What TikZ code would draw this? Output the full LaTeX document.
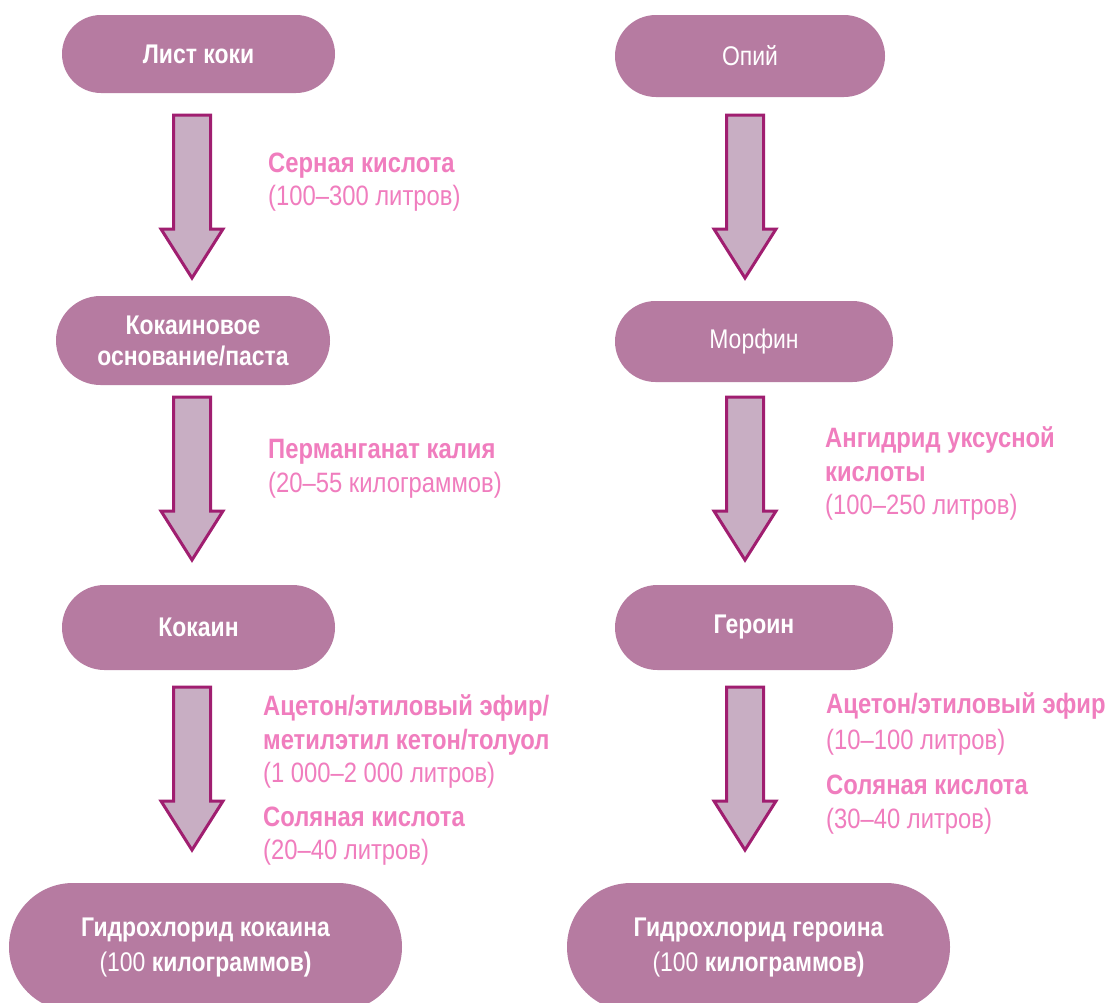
\documentclass[tikz,border=0pt]{standalone}
\usepackage{fontspec}
\setmainfont{Liberation Sans}[FakeStretch=0.85]
\usetikzlibrary{calc}
\definecolor{pillfill}{HTML}{B67BA1}
\definecolor{arrfill}{HTML}{C8AEC3}
\definecolor{arrline}{HTML}{A01E70}
\definecolor{lblpink}{HTML}{F07DBE}
\tikzset{
  pill/.style={fill=pillfill, text=white, align=center, inner sep=0pt,
    font=\fontsize{27}{31}\selectfont\bfseries},
  lbl/.style={text=lblpink, align=left, anchor=north west, inner sep=0pt,
    font=\fontsize{28}{33.5}\selectfont},
  blockarrow/.style={draw=arrline, fill=arrfill, line width=3pt, line join=miter},
}
\newcommand\blockarr[2]{%
  \draw[blockarrow] ($(#1)+(-18.5,0)$) -- ($(#1)+(18.5,0)$) -- ($(#2)+(18.5,-49)$)
    -- ($(#2)+(31,-49)$) -- (#2) -- ($(#2)+(-31,-49)$) -- ($(#2)+(-18.5,-49)$) -- cycle;}
\begin{document}
\begin{tikzpicture}[x=1pt,y=-1pt]
\clip (0,0) rectangle (1113,1002);
\fill[white] (0,0) rectangle (1113,1002);
% left column
\node[pill, minimum width=273pt, minimum height=78pt, rounded corners=39pt] (n1) at (198.5,54) {Лист коки};
\node[pill, minimum width=274pt, minimum height=89pt, rounded corners=44.5pt] (n2) at (193,340.5) {Кокаиновое\\основание/паста};
\node[pill, minimum width=273pt, minimum height=85pt, rounded corners=42.5pt] (n3) at (198.5,627.5) {Кокаин};
\node[pill, minimum width=393pt, minimum height=128pt, rounded corners=64pt] (n4) at (205.5,947) {Гидрохлорид кокаина\\[4pt]{\mdseries (100} килограммов)};
% right column
\node[pill, minimum width=270pt, minimum height=82pt, rounded corners=41pt] (n5) at (750,56) {\mdseries Опий};
\node[pill, minimum width=278pt, minimum height=81pt, rounded corners=40.5pt] (n6) at (754,341.5) {\mdseries Морфин};
\node[pill, minimum width=278pt, minimum height=85pt, rounded corners=42.5pt] (n7) at (754,627.5) {Героин};
\node[pill, minimum width=383pt, minimum height=128pt, rounded corners=64pt] (n8) at (758.5,947) {Гидрохлорид героина\\[4pt]{\mdseries (100} килограммов)};
% arrow ends
\coordinate (a1s) at (192,115); \coordinate (a1e) at (192,278);
\coordinate (a2s) at (192,397); \coordinate (a2e) at (192,560);
\coordinate (a3s) at (192,687); \coordinate (a3e) at (192,850);
\coordinate (b1s) at (745,115); \coordinate (b1e) at (745,278);
\coordinate (b2s) at (745,397); \coordinate (b2e) at (745,560);
\coordinate (b3s) at (745,687); \coordinate (b3e) at (745,850);
\blockarr{a1s}{a1e}
\blockarr{a2s}{a2e}
\blockarr{a3s}{a3e}
\blockarr{b1s}{b1e}
\blockarr{b2s}{b2e}
\blockarr{b3s}{b3e}
% labels
\node[lbl] (l1) at (268,152.5) {\textbf{Серная кислота}\\(100–300 литров)};
\node[lbl] (l2) at (268,439.5) {\textbf{Перманганат калия}\\(20–55 килограммов)};
\node[lbl] (l3) at (263,694.5) {\textbf{Ацетон/этиловый эфир/}\\\textbf{метилэтил кетон/толуол}\\(1 000–2 000 литров)\\[10pt]\textbf{Соляная кислота}\\(20–40 литров)};
\node[lbl] (r2) at (825,426.5) {\textbf{Ангидрид уксусной}\\\textbf{кислоты}\\(100–250 литров)};
\node[lbl] (r3) at (826,692.5) {\textbf{Ацетон/этиловый эфир}\\[2pt](10–100 литров)\\[12pt]\textbf{Соляная кислота}\\(30–40 литров)};
\end{tikzpicture}
\end{document}
